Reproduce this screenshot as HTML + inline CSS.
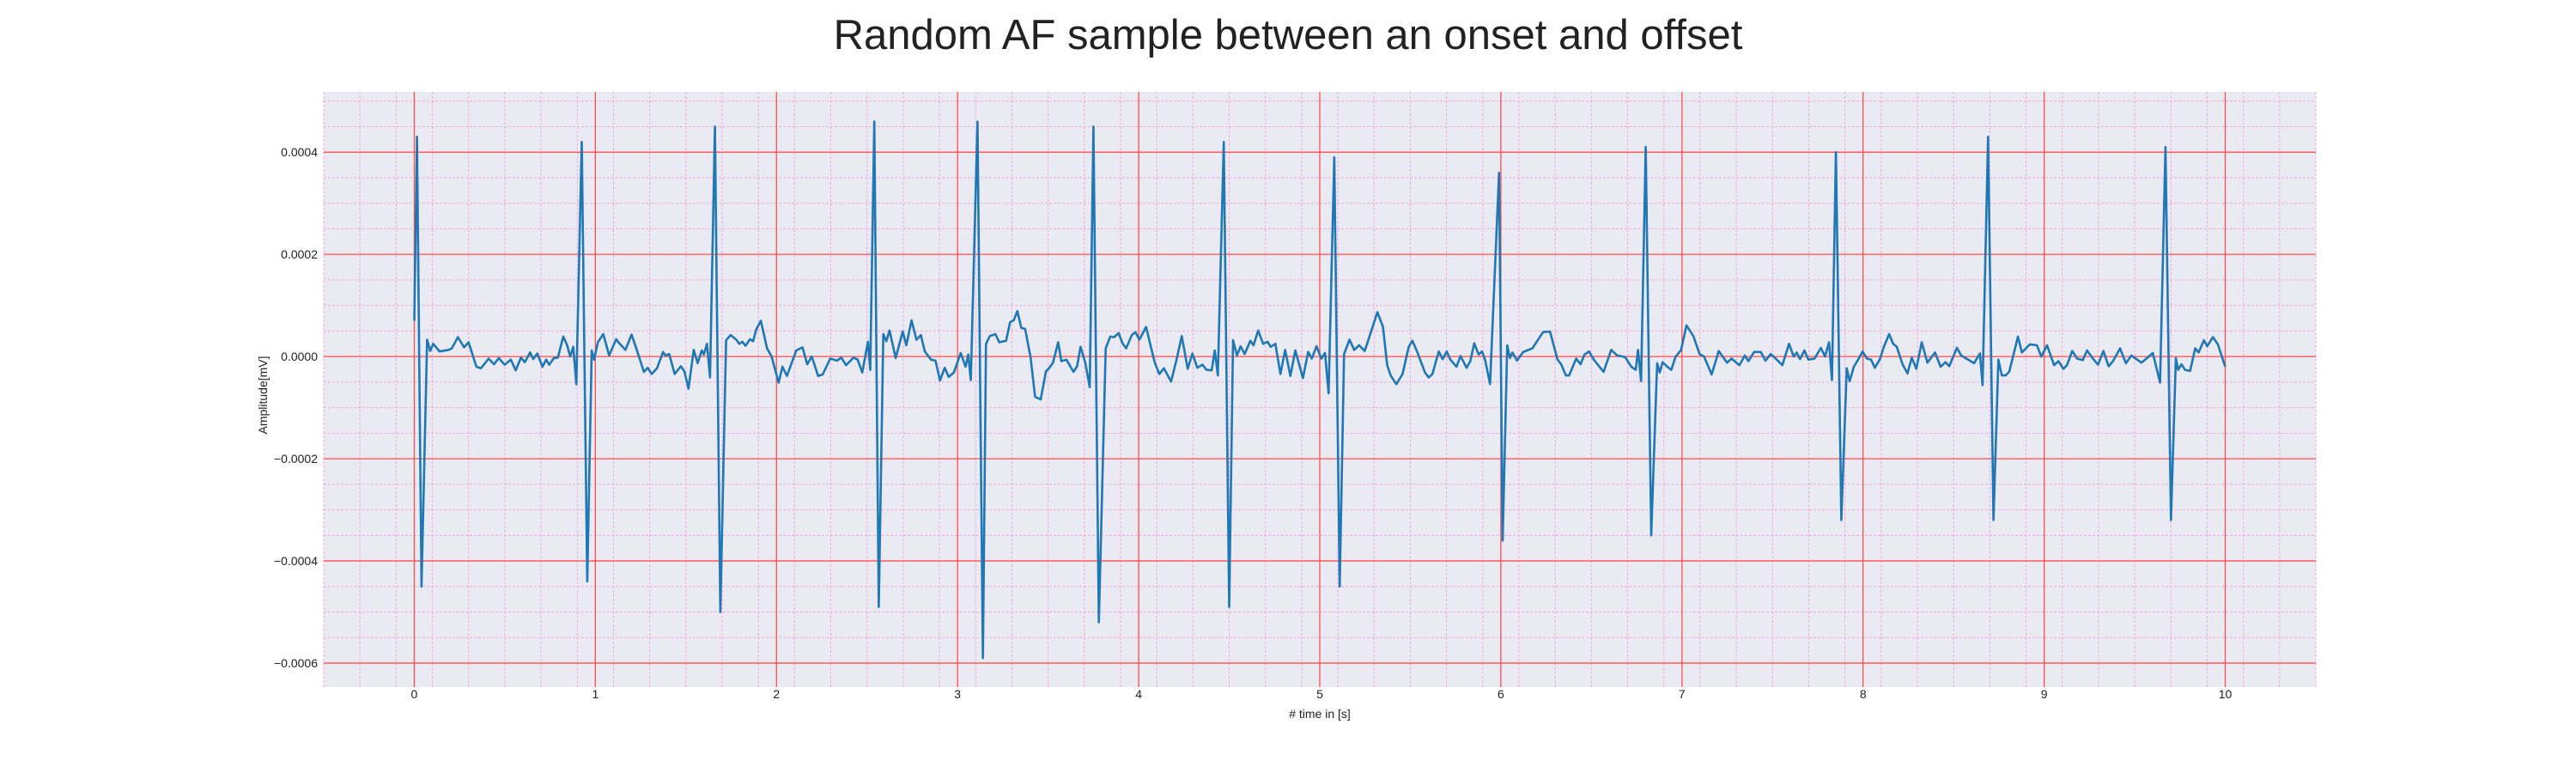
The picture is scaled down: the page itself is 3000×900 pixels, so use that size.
<!DOCTYPE html>
<html><head><meta charset="utf-8"><style>
html,body{margin:0;padding:0;background:#fff;}
svg{display:block;font-family:"Liberation Sans",Arial,sans-serif;}
</style></head><body>
<svg id="chart" width="3000" height="900" xmlns="http://www.w3.org/2000/svg">
<rect width="3000" height="900" fill="#fff"/>
<text x="1500" y="57" font-size="49" text-anchor="middle" fill="#222">Random AF sample between an onset and offset</text>
<rect x="377" y="107" width="2320" height="693" fill="#eaeaf2"/>
<g id="grid"></g>
<g id="series"></g>
<g id="ticks"></g>
<text x="1537" y="836" font-size="14" text-anchor="middle" fill="#222"># time in [s]</text>
<text x="0" y="0" font-size="14" text-anchor="middle" fill="#222" transform="translate(311,460) rotate(-90)">Amplitude[mV]</text>
</svg>
<script>
// time in seconds
const times = [0,0.015,0.04,0.071,0.088,0.105,0.139,0.19,0.207,0.241,0.275,0.3,0.343,0.368,0.411,0.44,0.467,0.499,0.533,0.56,0.589,0.61,0.64,0.657,0.679,0.708,0.728,0.745,0.771,0.793,0.823,0.844,0.861,0.878,0.895,
0.925,0.955,0.98,0.993,1.014,1.044,1.076,1.115,1.132,1.166,1.2,1.226,1.268,1.289,1.311,1.34,1.374,1.387,1.408,1.438,1.472,1.492,1.514,1.543,1.565,1.587,1.599,1.616,1.633,
1.66,1.69,1.722,1.747,1.778,1.795,1.812,1.829,1.854,1.871,1.888,1.914,1.948,1.973,2.012,2.033,2.058,2.109,2.144,2.17,2.195,2.23,2.255,2.297,2.335,2.358,2.384,2.426,2.448,2.474,2.505,2.518,
2.54,2.565,2.59,2.607,2.624,2.658,2.697,2.717,2.746,2.773,2.797,2.819,2.853,2.878,2.903,2.929,2.951,2.98,3.017,3.044,3.059,3.073,
3.11,3.14,3.157,3.178,3.209,3.23,3.268,3.29,3.31,3.33,3.352,3.373,3.403,3.428,3.459,3.488,3.505,3.527,3.556,3.573,3.601,3.64,3.66,3.679,3.705,3.73,
3.75,3.78,3.818,3.843,3.865,3.889,3.911,3.931,3.962,3.982,4.004,4.041,4.06,4.089,4.114,4.139,4.179,4.209,4.238,4.271,4.297,4.324,4.352,4.374,4.403,4.42,4.437,
4.47,4.5,4.521,4.543,4.563,4.585,4.617,4.634,4.66,4.687,4.712,4.729,4.755,4.783,4.809,4.838,4.865,4.907,4.936,4.956,4.982,5.009,5.029,5.049,
5.08,5.11,5.134,5.164,5.19,5.217,5.248,5.268,5.318,5.349,5.372,5.391,5.423,5.457,5.491,5.511,5.537,5.581,5.601,5.622,5.657,5.679,5.701,5.721,5.755,5.777,5.811,5.831,5.853,5.877,5.896,5.913,5.94,
5.99,6.01,6.035,6.05,6.064,6.089,6.123,6.174,6.2,6.233,6.271,6.313,6.333,6.359,6.377,6.416,6.44,6.462,6.487,6.513,6.567,6.609,6.643,6.686,6.72,6.745,6.757,6.774,
6.8,6.83,6.863,6.877,6.893,6.919,6.941,6.964,6.995,7.025,7.063,7.097,7.122,7.164,7.203,7.249,7.274,7.317,7.347,7.367,7.398,7.435,7.461,7.49,7.515,7.554,7.591,7.617,7.634,7.652,7.676,7.698,7.732,7.767,7.79,7.812,7.828,
7.85,7.88,7.91,7.926,7.949,7.973,7.997,8.021,8.044,8.065,8.092,8.115,8.144,8.166,8.186,8.218,8.245,8.269,8.294,8.324,8.355,8.397,8.428,8.455,8.476,8.518,8.542,8.589,8.613,8.645,8.66,
8.69,8.72,8.747,8.766,8.787,8.807,8.855,8.877,8.921,8.96,8.984,9.016,9.055,9.079,9.106,9.126,9.155,9.182,9.213,9.237,9.269,9.297,9.327,9.356,9.38,9.419,9.451,9.482,9.537,9.561,9.6,9.64,
9.67,9.7,9.727,9.74,9.758,9.778,9.806,9.834,9.853,9.882,9.9,9.932,9.959,10.0];
// amplitude in units of 1e-5 mV
const ampE5 = [7,43,-45,3.3,1.1,2.5,1,1.3,1.6,3.8,1.8,2.8,-2,-2.3,-0.4,-1.5,-0.3,-1.6,-0.6,-2.7,-0.2,-1.1,0.8,-0.5,0.6,-2,-0.6,-1.6,-0.3,-0.2,3.9,2.2,0,1.9,-5.4,
42,-44,1.2,-0.6,2.8,4.4,0.2,3.4,2.6,1.3,4.3,1.6,-3,-2.2,-3.4,-2.3,0.9,0.2,0.5,-3.4,-1.9,-2.9,-6.3,1.3,-1.3,1.2,0.4,2.5,-4.1,
45,-50,3.2,4.2,3.3,2.5,2.9,2.1,3.4,3,5.3,7,1.6,0,-5.1,-2,-3.8,1.2,1.8,-1.5,0,-3.8,-3.5,-0.4,-0.8,-0.2,-1.7,-0.2,-0.6,-3.1,2.9,-2.6,
46,-49,4.4,3,5.1,-0.3,4.9,2.2,7.1,3.3,4.2,1,-0.6,-0.8,-4.7,-2.2,-4,-3.1,0.7,-2,0.4,-4.6,
46,-59,2.5,4,4.4,2.8,3.1,6.7,7.1,8.9,5.6,5.4,-0.2,-7.9,-8.4,-2.9,-2.3,-1.2,2.8,-0.9,-0.6,-3,-1.9,1.9,-1.2,-6,
45,-52,1.6,3.9,3.8,4.6,2.6,1.6,4.2,4.8,3.3,5.8,3,-1.2,-3.4,-2.3,-4.9,-0.6,4,-2.4,0.6,-2.2,-1.6,-2.6,-2.7,1.2,-3.7,
42,-49,3.2,0.2,2,0.5,3.1,2.2,5.1,2.5,2.9,1.9,2.5,-3.4,1.3,-3.8,1.2,-4.2,0.9,-0.4,2,-0.4,0.7,-7.2,
39,-45,0.5,3.3,1.3,2.2,1.1,3.2,8.7,5.8,-1.7,-3.7,-5.4,-3.4,1.9,3.1,1,-3.1,-4.1,-3.4,1,-0.5,1,-0.6,-2,0.1,-2.2,-0.9,2.6,0.4,1,-0.7,-5.4,
36,-36,2.2,-0.3,0.8,-0.8,0.9,1.6,3,4.8,4.9,-0.6,-1.5,-3.7,-3.7,-0.4,-1.5,0.4,1,-0.6,-3,1.3,0.2,-0.1,-2,-2.6,1.3,-4.8,
41,-35,-1.3,-3.1,-1.1,-2,-2.6,-0.1,1.3,6.1,4,0.5,0,-3.5,1.1,-1.2,-0.4,-1.7,0.2,-0.9,0.9,0.9,-0.8,0.5,-0.3,-1.7,2.5,0,0.8,-0.5,1.2,-0.6,-0.4,1.7,0,2.8,-4.6,
40,-32,-2.3,-4.8,-2,-0.6,1,-0.4,-0.6,-2.2,-0.6,1.9,4.4,2.5,1.9,-1.5,-3.3,-0.2,-2.4,2.8,-1.2,0.8,-2,-1.1,-1.9,1.7,0.2,-0.8,-1.3,0.6,-5.6,
43,-32,-0.6,-3.7,-3.7,-3,3.9,0.8,2.4,2.2,0,2.2,-1.7,-0.9,-2.4,-1.7,1.1,-0.4,-0.7,1.2,-0.4,-1.6,1.1,-1.9,-0.9,1.6,-1.3,0.2,-1.2,-0.5,0.7,-5.1,
41,-32,-0.3,-2.6,-1.5,-2.6,-2.8,1.6,0.8,3.2,2,3.8,2.4,-2];
const xTicks = [0,1,2,3,4,5,6,7,8,9,10];
const yTicks = [-0.0006,-0.0004,-0.0002,0,0.0002,0.0004];
const yTickLabels = ["\u22120.0006","\u22120.0004","\u22120.0002","0.0000","0.0002","0.0004"];

const PL=377, PR=2697, PT=107, PB=800;
const XMIN=-0.5, XMAX=10.5, YMIN=-0.000647, YMAX=0.000518;
function sx(t){return PL+(t-XMIN)/(XMAX-XMIN)*(PR-PL);}
function sy(v){return PB-(v-YMIN)/(YMAX-YMIN)*(PB-PT);}
const NS="http://www.w3.org/2000/svg";
function mk(tag, attrs, parent){const e=document.createElementNS(NS,tag);for(const k in attrs)e.setAttribute(k,attrs[k]);parent.appendChild(e);return e;}
const grid=document.getElementById('grid');
for(let i=-5;i<=105;i+=2){const t=i/10; if(i%10===0) continue; if(t<XMIN||t>XMAX) continue;
  const l=mk('line',{x1:sx(t),x2:sx(t),y1:PT,y2:PB,stroke:'#f0a8dc','stroke-width':1,'stroke-dasharray':'3,2'},grid);
  
  }
for(let i=-13;i<=11;i++){const v=i*0.00005; if(i%4===0) continue; if(v<YMIN||v>YMAX) continue;
  const l=mk('line',{x1:PL,x2:PR,y1:sy(v),y2:sy(v),stroke:'#f0a8dc','stroke-width':1,'stroke-dasharray':'3,2'},grid);
  
  }
xTicks.forEach(t=>{const l=mk('line',{x1:sx(t),x2:sx(t),y1:PT,y2:PB,stroke:'#ff4d4d','stroke-width':1.3},grid);
  
  });
yTicks.forEach(v=>{const l=mk('line',{x1:PL,x2:PR,y1:sy(v),y2:sy(v),stroke:'#ff4d4d','stroke-width':1.3},grid);
  
  });
const series=document.getElementById('series');
let d='';
for(let i=0;i<times.length;i++){d+=(i?'L':'M')+sx(times[i]).toFixed(1)+','+sy(ampE5[i]*1e-5).toFixed(1);}
const p=mk('path',{d:d,fill:'none',stroke:'#1f77b4','stroke-width':2.6,'stroke-linejoin':'round'},series);


const tk=document.getElementById('ticks');
xTicks.forEach(t=>{const e=mk('text',{x:sx(t),y:813,'font-size':14,'text-anchor':'middle',fill:'#222'},tk);e.textContent=String(t);
  
  });
yTicks.forEach((v,i)=>{const e=mk('text',{x:370,y:sy(v)+5,'font-size':14,'text-anchor':'end',fill:'#222'},tk);e.textContent=yTickLabels[i];
  
  });
</script>
</body></html>
